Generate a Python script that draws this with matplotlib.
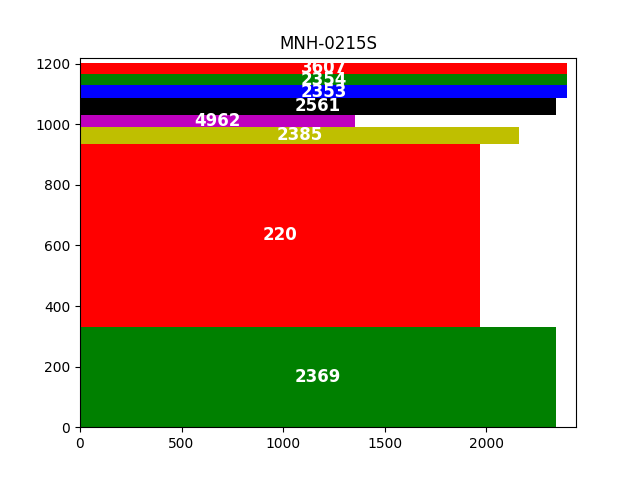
import matplotlib
matplotlib.use("Agg")
import matplotlib.pyplot as plt

labels = ["2369", "220", "2385", "4962", "2561", "2353", "2354", "3607"]
widths = [2345, 1970, 2162, 1355, 2345, 2399, 2399, 2399]
bottoms = [0, 330, 936, 992, 1032, 1088, 1128, 1167]
tops = [330, 936, 992, 1032, 1088, 1128, 1167, 1203]
colors = ["g", "r", "y", "m", "k", "b", "g", "r"]

fig, ax = plt.subplots(figsize=(6.4, 4.8), dpi=100)
heights = [t - b for t, b in zip(tops, bottoms)]
bars = ax.barh(bottoms, widths, height=heights, align="edge", color=colors)
for b, lab in zip(bars, labels):
    ax.text(b.get_x() + b.get_width() / 2, b.get_y() + b.get_height() / 2, lab,
            ha="center", va="center", color="white", fontsize=12, fontweight="bold")
ax.set_xlim(0, 2443)
ax.set_ylim(0, 1220)
ax.set_title("MNH-0215S")
fig.savefig("out.png")
